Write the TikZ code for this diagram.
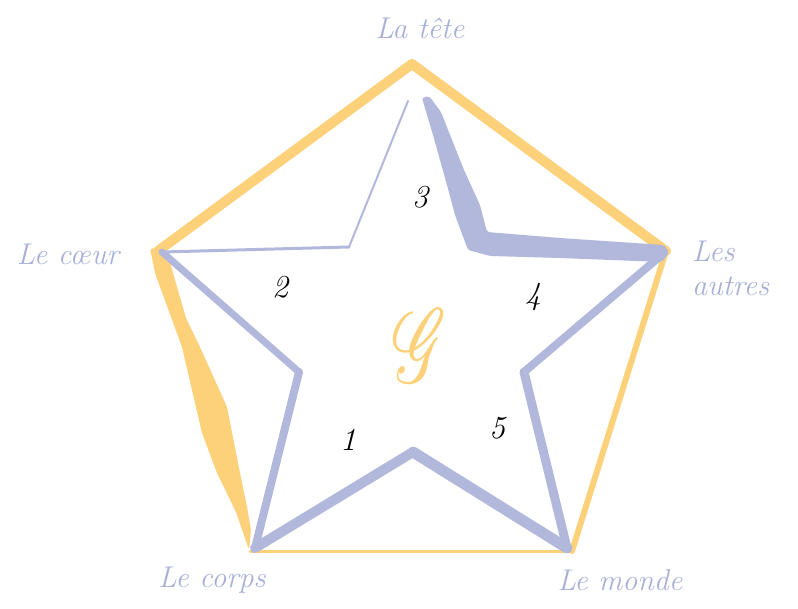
\documentclass[tikz,border=0pt]{standalone}
\usepackage{fontspec}
\usepackage{mathrsfs}
\usetikzlibrary{positioning,calc}
\definecolor{pentayellow}{RGB}{253,208,122}
\definecolor{starlav}{RGB}{178,184,220}
\definecolor{polelav}{RGB}{168,176,216}
\tikzset{
  pentaedge/.style={draw=pentayellow,line cap=round,line join=round},
  staredge/.style={draw=starlav,line cap=round,line join=round},
  pole/.style={text=polelav,font=\fontsize{30}{34}\selectfont\itshape,inner sep=0pt},
  zone/.style={text=black,font=\fontsize{32}{32}\selectfont\itshape,inner sep=0pt},
}

\begin{document}
\begin{tikzpicture}[x=1pt,y=-1pt]
  \useasboundingbox (0,0) rectangle (798,609);
  % ---------------- pentagon corners ----------------
  \coordinate (tete)   at (412,64);
  \coordinate (autres) at (666,251);
  \coordinate (monde)  at (572,551);
  \coordinate (corps)  at (250,551);
  \coordinate (coeur)  at (158,251);
  % ---------------- star points ----------------
  \coordinate (sTopL)   at (408,101);
  \coordinate (sAutres) at (664,253);
  \coordinate (sMonde)  at (567,548);
  \coordinate (sCorps)  at (255,548);
  \coordinate (sCoeur)  at (162,252);
  \coordinate (iTopL)   at (349,247);
  \coordinate (iLeft)   at (299,372);
  \coordinate (iRight)  at (524,372);
  \coordinate (iBottom) at (413,452);
  % ---------------- pentagon ----------------
  \draw[pentaedge,line width=10pt] (tete) -- (autres);
  \draw[pentaedge,line width=6pt]  (autres) -- (monde);
  \draw[pentaedge,line width=3pt]  (monde) -- (corps);
  \draw[pentaedge,line width=10pt] (coeur) -- (tete);
  % brush stroke, left side
  \fill[pentayellow,rounded corners=3pt] (150,248) -- (155,273) -- (182,347) -- (202,433)
    -- (217,473) -- (236,512) -- (249,550) -- (251,530) -- (247,507) -- (240,473)
    -- (227,407) -- (200,347) -- (186,318) -- (173,273) -- (167,250) -- cycle;
  % ---------------- star ----------------
  \draw[staredge,line width=2pt]   (sTopL) -- (iTopL);
  \draw[staredge,line width=3pt]   (iTopL) -- (sCoeur);
  \draw[staredge,line width=7pt]   (sCoeur) -- (iLeft);
  \draw[staredge,line width=8pt]   (iLeft) -- (sCorps);
  \draw[staredge,line width=10pt]  (sCorps) -- (iBottom);
  \draw[staredge,line width=11pt]  (iBottom) -- (sMonde);
  \draw[staredge,line width=9pt]   (sMonde) -- (iRight);
  \draw[staredge,line width=8pt]   (iRight) -- (sAutres);
  % brush stroke, upper right arm
  \fill[starlav,rounded corners=2pt] (422,98) -- (429,96) -- (441,112) -- (464,170)
    -- (480,205) -- (487,232) -- (560,238) -- (664,245) -- (669,252) -- (662,262)
    -- (560,258) -- (490,256) -- (468,250) -- (455,215) -- (447,185) -- (433,135) -- cycle;
  % ---------------- pole labels ----------------
  \node[pole] (lTete)   at (420,28)  {La tête};
  \node[pole] (lCoeur)  at (68,254)  {Le cœur};
  \node[pole,anchor=west,align=left] (lAutres) at (692,268) {Les\\autres};
  \node[pole] (lCorps)  at (212,580) {Le corps};
  \node[pole] (lMonde)  at (620,580) {Le monde};
  % ---------------- zone numbers ----------------
  \foreach \n/\x/\y in {1/348/440,2/280/287,3/420/197,4/533/297,5/497/428}{
    \node[zone] (z\n) at (\x,\y) {\n};}
  \node[text=pentayellow,font=\Huge,xscale=2.8,yscale=4.2] (g) at (420,346) {$\mathscr{G}$};
\end{tikzpicture}
\end{document}
